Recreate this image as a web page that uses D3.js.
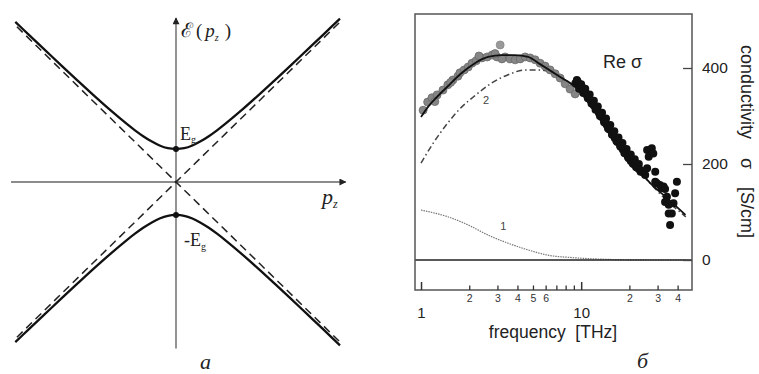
<!DOCTYPE html>
<html><head><meta charset="utf-8">
<script src="https://cdn.jsdelivr.net/npm/d3@7"></script>
<style>body{margin:0;background:#fff}svg{display:block}</style>
</head><body>
<svg id="c" width="759" height="374"></svg>
<script>
// ---------- Panel a: dispersion ----------
const pSamples   = [-0.98,-0.9,-0.8,-0.7,-0.6,-0.5,-0.4,-0.3,-0.25,-0.2,-0.15,-0.1,-0.05,0,0.05,0.1,0.15,0.2,0.25,0.3,0.4,0.5,0.6,0.7,0.8,0.9,1.0];
const energyUpper= [1.001,0.923,0.826,0.729,0.634,0.540,0.449,0.363,0.323,0.286,0.254,0.228,0.211,0.206,0.211,0.228,0.254,0.286,0.323,0.363,0.449,0.540,0.634,0.729,0.826,0.923,1.021];
const gapEnergy  = 0.206;
const asymLeft   = [-0.97, 0.97];   // p, |E|
const asymRight  = [1.0, 1.0];
const axisP      = [-1.006, 1.035];
const axisE      = [-1.04, 1.025];

// ---------- Panel b: conductivity ----------
const fitF   = [1, 1.1, 1.22, 1.47, 1.8, 2.17, 2.62, 3.2, 3.87, 4.66, 5.6, 7.4, 9.4, 12, 15, 18.5, 22.3, 27, 34.4, 44.8];
const fitS   = [298, 318, 335, 362, 390, 410, 423, 427, 427, 423, 407, 381, 358, 312, 270, 229, 192, 160, 129, 94];
const c2F    = [1, 1.2, 1.45, 1.75, 2.2, 2.8, 3.5, 4.5, 5.5, 6.5, 8, 10, 14, 20, 30, 45];
const c2S    = [202, 245, 283, 315, 344, 370, 386, 396, 396, 390, 374, 347, 282, 212, 143, 90];
const c1F    = [1, 1.47, 1.97, 2.62, 3.5, 4.66, 6.2, 8.8, 12.8, 18.8, 30, 45];
const c1S    = [104, 90, 73, 52, 35, 21, 10, 5, 2, 0.5, 0, 0];
const grayF  = [1.03,1.10,1.17,1.26,1.37,1.47,1.58,1.70,1.75,1.86,1.97,2.08,2.21,2.40,2.59,2.78,2.98,3.35,3.60,3.87,4.16,4.47,4.80,5.16,5.54,5.95,6.40,6.88,7.39,7.94,8.53,9.17,1.22,1.53,2.3,2.9,3.2];
const grayS  = [312,329,338,344,354,365,375,383,390,396,402,410,415,421,423,427,423,423,419,417,419,423,421,417,410,404,396,388,379,367,356,346,330,370,425,430,419];
const outF   = [3.12];
const outS   = [448];
const blackF = [9.2,9.5,9.8,10.1,10.4,10.8,11.2,11.6,12.0,12.4,12.9,13.4,13.9,14.4,15.0,15.6,16.2,16.8,17.5,18.2,18.9,19.6,20.4,21.2,22.0,22.8,23.6,24.5,
                9.4,10.0,10.6,11.3,12.0,12.7,13.5,14.3,15.2,16.1,17.1,18.1,19.2,20.4,21.6,22.9,
                9.7,10.3,11.0,11.6,12.3,13.1,13.9,14.7,15.6,16.6,17.6,18.6,19.8,21.0,22.2,23.5,
                25.8,27.6,26.4,28.2,25.8,29.0,23.3,25.1,29.7,31.0,32.7,29.0,39.6,38.6,34.3,33.4,35.2,37.7,36.8,35.2,35.9,33.4,31.8];
const blackS = [368,372,366,360,352,346,338,332,322,316,306,298,290,282,272,262,254,246,238,230,222,214,206,200,194,190,186,182,
                375,366,357,345,332,320,307,295,281,268,255,244,231,220,210,200,
                357,348,337,326,313,300,287,274,261,248,236,223,212,201,193,184,
                229,233,215,222,191,184,188,177,160,156,153,163,163,139,132,121,115,118,97,97,73,148,150];
const majorTicks = [1, 10];
const minorTicks = [2,3,4,5,6,7,8,9,20,30,40];
const minorLabels= {2:"2",3:"3",4:"4",5:"5",6:"6",20:"2",30:"3",40:"4"};
const yTicks = [0, 200, 400];

const svg = d3.select("#c");
const defs = svg.append("defs");
defs.append("marker").attr("id","arr").attr("viewBox","0 0 10 10").attr("refX",9).attr("refY",5)
  .attr("markerWidth",9).attr("markerHeight",7).attr("markerUnits","userSpaceOnUse").attr("orient","auto")
  .append("path").attr("d","M0,0L10,5L0,10z").attr("fill","#222");

// ===== Panel a =====
const xa = d3.scaleLinear().domain([-1,1]).range([12,340]);
const ya = d3.scaleLinear().domain([-1,1]).range([342,22]);
const ga = svg.append("g");
ga.append("line").attr("x1",xa(axisP[0])).attr("x2",xa(axisP[1])).attr("y1",ya(0)).attr("y2",ya(0))
  .attr("stroke","#666").attr("stroke-width",1.4).attr("marker-end","url(#arr)");
ga.append("line").attr("x1",xa(0)).attr("x2",xa(0)).attr("y1",ya(axisE[0])).attr("y2",ya(axisE[1]))
  .attr("stroke","#666").attr("stroke-width",1.4).attr("marker-end","url(#arr)");
[[asymLeft[0], asymLeft[1], asymRight[0], -asymRight[1]], [asymLeft[0], -asymLeft[1], asymRight[0], asymRight[1]]]
  .forEach(s => ga.append("line").attr("x1",xa(s[0])).attr("y1",ya(s[1])).attr("x2",xa(s[2])).attr("y2",ya(s[3]))
    .attr("stroke","#222").attr("stroke-width",1.5).attr("stroke-dasharray","8,5"));
const lineA = d3.line().x(d=>xa(d[0])).y(d=>ya(d[1])).curve(d3.curveCatmullRom);
const up = pSamples.map((p,i)=>[p, energyUpper[i]]);
const lo = pSamples.map((p,i)=>[p, -energyUpper[i]]);
[up, lo].forEach(d => ga.append("path").attr("d", lineA(d)).attr("fill","none").attr("stroke","#111").attr("stroke-width",2.3));
[gapEnergy, -gapEnergy].forEach(e => ga.append("circle").attr("cx",xa(0)).attr("cy",ya(e)).attr("r",3).attr("fill","#111"));
const serif = "'Liberation Serif','DejaVu Serif',serif";
const tE = ga.append("text").attr("x",xa(0)+4).attr("y",ya(gapEnergy)-9).attr("font-family",serif).attr("font-size",18).attr("fill","#222");
tE.append("tspan").text("E"); tE.append("tspan").attr("font-size",10).attr("dy",3).text("g");
const tE2 = ga.append("text").attr("x",xa(0)+8).attr("y",ya(-gapEnergy)+31).attr("font-family",serif).attr("font-size",18).attr("fill","#222");
tE2.append("tspan").text("-E"); tE2.append("tspan").attr("font-size",10).attr("dy",4).text("g");
const tP = ga.append("text").attr("x",322).attr("y",ya(0)+22).attr("font-family",serif).attr("font-size",22).attr("font-style","italic").attr("fill","#222");
tP.append("tspan").text("p"); tP.append("tspan").attr("font-size",12).attr("dy",4).text("z");
const tT = ga.append("text").attr("x",181).attr("y",37).attr("font-family",serif).attr("font-size",19).attr("fill","#222");
tT.append("tspan").attr("font-family","'DejaVu Serif',serif").attr("font-size",20).text("ℰ");
tT.append("tspan").attr("dx",3).text("(");
tT.append("tspan").attr("dx",3).attr("font-style","italic").text("p");
tT.append("tspan").attr("font-size",10).attr("font-style","italic").attr("dy",4).text("z");
tT.append("tspan").attr("dx",6).attr("dy",-4).text(")");
ga.append("text").attr("x",200).attr("y",369).attr("font-family",serif).attr("font-style","italic").attr("font-size",22).attr("fill","#222").text("а");

// ===== Panel b =====
const xb = d3.scaleLog().domain([0.917, 49.2]).range([415, 692]);
const yb = d3.scaleLinear().domain([-62.5, 512.5]).range([290, 14]);
const gb = svg.append("g");
const sans = "'Liberation Sans',Arial,sans-serif";

const lineB = d3.line().x((d)=>xb(d[0])).y(d=>yb(d[1])).curve(d3.curveMonotoneX);
gb.append("path").attr("d", lineB(c1F.map((f,i)=>[f,c1S[i]]))).attr("fill","none")
  .attr("stroke","#777").attr("stroke-width",1.2).attr("stroke-dasharray","1.5,1");
gb.append("line").attr("x1",xb.range()[0]).attr("x2",xb.range()[1]).attr("y1",yb(0)).attr("y2",yb(0))
  .attr("stroke","#222").attr("stroke-width",1.5);
gb.append("path").attr("d", lineB(c2F.map((f,i)=>[f,c2S[i]]))).attr("fill","none")
  .attr("stroke","#444").attr("stroke-width",1.5).attr("stroke-dasharray","6,3,1.5,3");
gb.append("g").selectAll("circle").data(grayF.map((f,i)=>[f,grayS[i]])).join("circle")
  .attr("cx",d=>xb(d[0])).attr("cy",d=>yb(d[1])).attr("r",4).attr("fill","#858585").attr("stroke","#6a6a6a").attr("stroke-width",0.8);
gb.append("g").selectAll("circle").data(outF.map((f,i)=>[f,outS[i]])).join("circle")
  .attr("cx",d=>xb(d[0])).attr("cy",d=>yb(d[1])).attr("r",4).attr("fill","#9a9a9a").attr("stroke","#888").attr("stroke-width",0.8);
gb.append("g").selectAll("circle").data(blackF.map((f,i)=>[f,blackS[i]])).join("circle")
  .attr("cx",d=>xb(d[0])).attr("cy",d=>yb(d[1])).attr("r",4).attr("fill","#111");
gb.append("path").attr("d", lineB(fitF.map((f,i)=>[f,fitS[i]]))).attr("fill","none")
  .attr("stroke","#111").attr("stroke-width",1.8);

gb.append("rect").attr("x",xb.range()[0]).attr("y",yb.range()[1]).attr("width",xb.range()[1]-xb.range()[0])
  .attr("height",yb.range()[0]-yb.range()[1]).attr("fill","none").attr("stroke","#555").attr("stroke-width",1.5);

const axMaj = d3.axisBottom(xb).tickValues(majorTicks).tickSize(-8).tickPadding(17).tickFormat(d3.format("d"));
const gMaj = gb.append("g").attr("transform",`translate(0,${yb.range()[0]})`).call(axMaj);
gMaj.select(".domain").remove();
gMaj.selectAll("line").attr("stroke","#333").attr("stroke-width",1.5);
gMaj.selectAll("text").attr("font-family",sans).attr("font-size",15).attr("fill","#222");
const axMin = d3.axisBottom(xb).tickValues(minorTicks).tickSize(-4.5).tickPadding(5).tickFormat(d=>minorLabels[d]||"");
const gMin = gb.append("g").attr("transform",`translate(0,${yb.range()[0]})`).call(axMin);
gMin.select(".domain").remove();
gMin.selectAll("line").attr("stroke","#333").attr("stroke-width",1.3);
gMin.selectAll("text").attr("font-family",sans).attr("font-size",10.5).attr("fill","#333");

const axY = d3.axisRight(yb).tickValues(yTicks).tickSize(-9).tickPadding(10).tickFormat(d3.format("d"));
const gY = gb.append("g").attr("transform",`translate(${xb.range()[1]},0)`).call(axY);
gY.select(".domain").remove();
gY.selectAll("line").attr("stroke","#444").attr("stroke-width",1.3);
gY.selectAll("text").attr("font-family",sans).attr("font-size",15.5).attr("fill","#222");

gb.append("text").attr("x",553).attr("y",338).attr("text-anchor","middle").attr("font-family",sans).attr("font-size",17.5)
  .attr("fill","#222").attr("xml:space","preserve").text("frequency  [THz]");
gb.append("text").attr("x",603).attr("y",68).attr("font-family",sans).attr("font-size",18).attr("fill","#222")
  .attr("xml:space","preserve").text("Re σ");
const yl = gb.append("g").attr("transform","translate(741,45) rotate(90)");
yl.append("text").attr("x",0).attr("y",0).attr("font-family",sans).attr("font-size",18).attr("fill","#222").text("conductivity");
yl.append("text").attr("x",113).attr("y",0).attr("font-family",sans).attr("font-size",18).attr("fill","#222").text("σ");
yl.append("text").attr("x",142).attr("y",0).attr("font-family",sans).attr("font-size",18).attr("fill","#222").text("[S/cm]");
gb.append("text").attr("x",xb(2.44)).attr("y",yb(325)).attr("font-family",sans).attr("font-size",11).attr("fill","#444").text("2");
gb.append("text").attr("x",xb(3.12)).attr("y",yb(62)).attr("font-family",sans).attr("font-size",11).attr("fill","#444").text("1");
gb.append("text").attr("x",637).attr("y",368).attr("font-family",serif).attr("font-style","italic").attr("font-size",22).attr("fill","#222").text("б");
</script>
</body></html>
